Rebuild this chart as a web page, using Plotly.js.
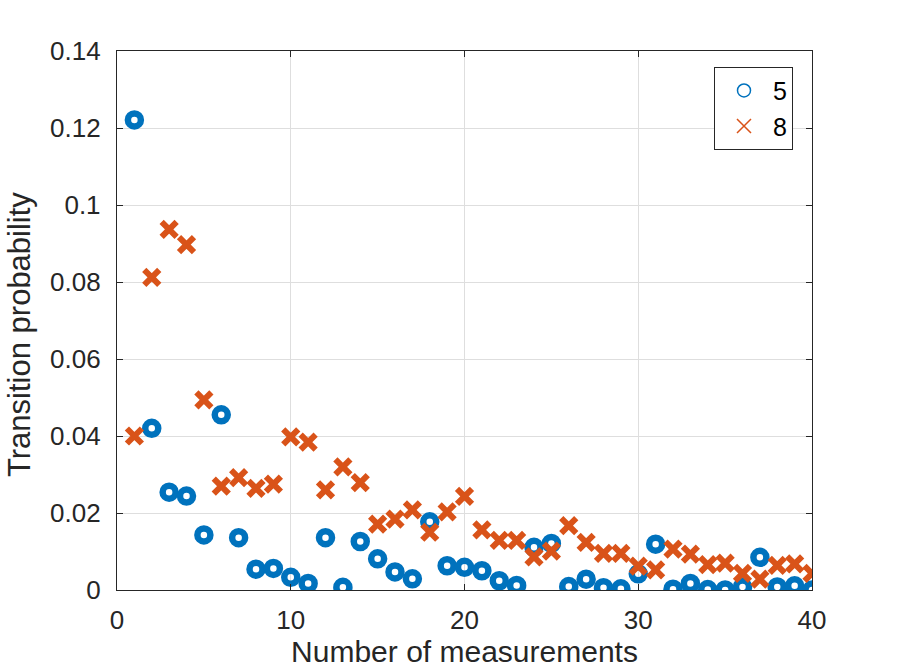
<!DOCTYPE html>
<html>
<head>
<meta charset="utf-8">
<script src="https://cdn.plot.ly/plotly-3.0.1.min.js"></script>
<style>html,body{margin:0;padding:0;background:#fff;}#chart{width:897px;height:669px;}</style>
</head>
<body>
<div id="chart"></div>
<script>
var measurements = [];
for (var i = 1; i <= 40; i++) measurements.push(i);

var series5 = [0.1221, 0.0420, 0.0254, 0.0244, 0.0143, 0.0455, 0.0136, 0.0054, 0.0056, 0.0033,
               0.0017, 0.0136, 0.0007, 0.0126, 0.0081, 0.0047, 0.0029, 0.0177, 0.0063, 0.0059,
               0.0050, 0.0024, 0.0012, 0.0111, 0.0121, 0.0009, 0.0028, 0.0006, 0.0003, 0.0042,
               0.0119, 0.0002, 0.0017, 0.0001, 0.0000, 0.0008, 0.0085, 0.0008, 0.0011, 0.0000];

var series8 = [0.0400, 0.0812, 0.0937, 0.0897, 0.0494, 0.0270, 0.0292, 0.0264, 0.0275, 0.0398,
               0.0384, 0.0260, 0.0320, 0.0279, 0.0171, 0.0184, 0.0208, 0.0150, 0.0203, 0.0243,
               0.0156, 0.0129, 0.0129, 0.0086, 0.0101, 0.0167, 0.0124, 0.0095, 0.0095, 0.0062,
               0.0052, 0.0106, 0.0093, 0.0066, 0.0070, 0.0043, 0.0028, 0.0064, 0.0068, 0.0043];

var seriesNames = ['5', '8'];
var xTicks = [0, 10, 20, 30, 40];
var yTicks = [0, 0.02, 0.04, 0.06, 0.08, 0.1, 0.12, 0.14];
var yTickText = ['0', '0.02', '0.04', '0.06', '0.08', '0.1', '0.12', '0.14'];
var xTitle = 'Number of measurements';
var yTitle = 'Transition probability';

var blue = '#0072BD', orange = '#D95319';
var fontFam = '"Liberation Sans", Arial, Helvetica, sans-serif';

var traces = [
  {x: measurements, y: series5, mode: 'markers', type: 'scatter', showlegend: false,
   marker: {symbol: 'circle-open', size: 13, color: blue, line: {color: blue, width: 6.5}}},
  {x: measurements, y: series8, mode: 'markers', type: 'scatter', showlegend: false,
   marker: {symbol: 'x-thin-open', size: 15, color: orange, line: {color: orange, width: 6}}},
  {x: [null], y: [null], mode: 'markers', type: 'scatter', name: seriesNames[0],
   marker: {symbol: 'circle-open', size: 13, color: blue, line: {color: blue, width: 1.5}}},
  {x: [null], y: [null], mode: 'markers', type: 'scatter', name: seriesNames[1],
   marker: {symbol: 'x-thin-open', size: 14, color: orange, line: {color: orange, width: 1.5}}}
];

var axisCommon = {
  showline: true, linecolor: '#262626', linewidth: 1.2, mirror: 'ticks',
  ticks: 'inside', ticklen: 6, tickcolor: '#262626', tickwidth: 1,
  showgrid: true, gridcolor: '#dedede', gridwidth: 1, zeroline: false,
  tickfont: {family: fontFam, size: 26, color: '#262626'}
};

var layout = {
  width: 897, height: 669,
  margin: {l: 117, r: 85, t: 51, b: 79, pad: 0},
  paper_bgcolor: '#ffffff', plot_bgcolor: '#ffffff',
  showlegend: true,
  xaxis: Object.assign({}, axisCommon, {
    range: [0, 40], tickvals: xTicks, ticktext: xTicks.map(String),
    ticklabelstandoff: 7,
    title: {text: xTitle, standoff: 5, font: {family: fontFam, size: 30, color: '#262626'}}
  }),
  yaxis: Object.assign({}, axisCommon, {
    range: [0, 0.14], tickvals: yTicks, ticktext: yTickText,
    ticklabelstandoff: 10
  }),
  annotations: [{
    text: yTitle, textangle: -90, showarrow: false,
    xref: 'paper', yref: 'paper',
    x: (19 - 117) / (812 - 117), y: (590 - 335) / (590 - 51),
    xanchor: 'center', yanchor: 'middle',
    font: {family: fontFam, size: 31, color: '#262626'}
  }],
  legend: {
    x: (714 - 117) / (812 - 117), y: 1 - (66.7 - 51) / (590 - 51),
    xanchor: 'left', yanchor: 'top',
    bgcolor: '#ffffff', bordercolor: '#262626', borderwidth: 1,
    font: {family: fontFam, size: 25, color: '#000000'},
    itemwidth: 48
  }
};

Plotly.newPlot('chart', traces, layout, {displayModeBar: false, staticPlot: true});
</script>
</body>
</html>
